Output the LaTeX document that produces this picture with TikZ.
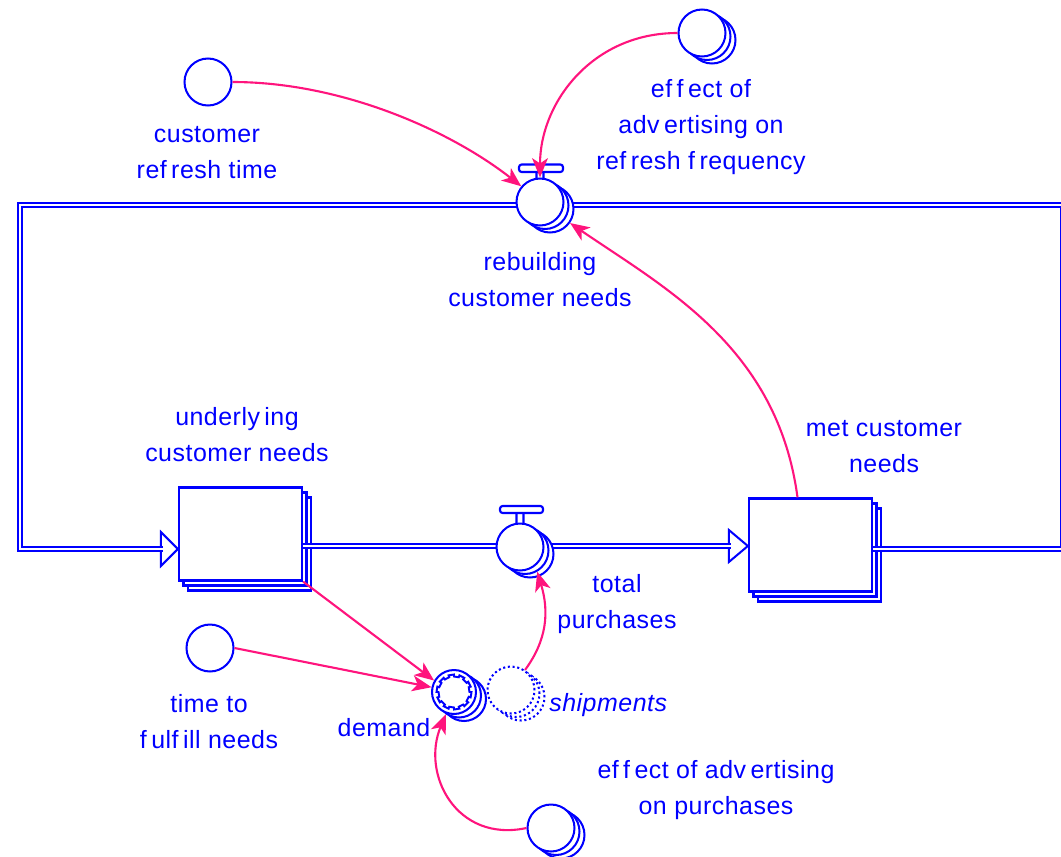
\documentclass[tikz,border=0pt]{standalone}
\usepackage{fontspec}
\setmainfont[LetterSpace=2]{Liberation Sans}
\usetikzlibrary{calc,arrows.meta}
\definecolor{vblue}{RGB}{0,0,255}
\definecolor{vpink}{RGB}{255,20,125}
% small gap that the sketch font leaves after f, v and y
\newcommand\fgap{\kern2.5pt}
% auxiliary / rate circle with two offset copies behind it
\newcommand\auxstack[3][auxc]{%
  \node[#1] (#2-b) at ($(#3)+(10,7)$) {};
  \node[#1] (#2-a) at ($(#3)+(5,3.5)$) {};
  \node[#1] (#2) at (#3) {};}
% level box with two offset copies behind it
\newcommand\stockstack[2]{%
  \node[stockbox] (#1-b) at ($(#2)+(9,10)$) {};
  \node[stockbox] (#1-a) at ($(#2)+(4.5,5)$) {};
  \node[stockbox] (#1) at (#2) {};}
\tikzset{
  auxc/.style={circle, draw=vblue, fill=white, line width=1.15pt,
    minimum size=0.94cm, inner sep=0pt},
  dmc/.style={auxc, minimum size=0.88cm},
  ghost/.style={auxc, dash pattern=on 1.2pt off 1.5pt},
  stockbox/.style={rectangle, draw=vblue, fill=white, line width=1.3pt,
    minimum width=2.46cm, minimum height=1.86cm, inner sep=0pt},
  pipe/.style={draw=vblue, line width=1.15pt, double=white,
    double distance=1.3pt, line join=miter},
  pipehead/.style={draw=vblue, fill=white, line width=1.15pt, line join=miter},
  valvebar/.style={draw=vblue, fill=white, line width=1.2pt, rounded corners=1.5pt},
  gear/.style={draw=vblue, line width=1.1pt, line join=miter},
  link/.style={draw=vpink, line width=1.2pt,
    -{Stealth[length=11pt,width=9pt,inset=3pt]}},
  lbl/.style={text=vblue, font=\fontsize{14.2}{20.5}\selectfont, align=center,
    anchor=north, inner sep=0pt, execute at begin node=\strut}
}
\begin{document}
\begin{tikzpicture}[x=0.02cm, y=-0.02cm]
\useasboundingbox (0,0) rectangle (1061,856);
\clip (0,0) rectangle (1061,856);

% levels
\stockstack{ucn}{240.5,534}
\stockstack{mcn}{810.5,545}

% flow heads
\draw[pipehead] (ucn.west |- 0,549) -- ++(-17,-17) -- ++(0,34) -- cycle;
\draw[pipehead] (mcn.west |- 0,546) -- ++(-19,-16) -- ++(0,32) -- cycle;

% pipes
\draw[pipe] (mcn.east |- 0,549) -- (1063,549) -- (1063,205) -- (20,205)
  -- (20,549) -- (163,549);
\draw[pipe] (ucn.east |- 0,546) -- (731,546);

% valve handles
\draw[valvebar] (536.5,170) rectangle (543.5,181);
\draw[valvebar] (519,164.5) rectangle (563,172);
\draw[valvebar] (516.5,511) rectangle (523.5,526);
\draw[valvebar] (500,506) rectangle (543,513);

% rates
\auxstack{rb}{540,202}
\auxstack{tp}{520,547}

% auxiliaries
\node[auxc] (crt) at (208,82) {};
\node[auxc] (tf) at (210,648) {};
\auxstack{ear}{702,33}
\auxstack{ep}{551,828}
\auxstack[ghost]{sp}{511,690}
\auxstack[dmc]{dm}{454,692}
\draw[gear] ($(dm.center)+(0:17.5)$)
  \foreach \a in {0,36,...,324} {
    -- ($(dm.center)+(\a+18:17.5)$) -- ($(dm.center)+(\a+18:15.5)$)
    -- ($(dm.center)+(\a+36:15.5)$) -- ($(dm.center)+(\a+36:17.5)$) } -- cycle;

% labels
\node[lbl] (l-crt) at (207,126) {customer\\ref\fgap resh time};
\node[lbl] (l-ear) at (701,79) {ef\fgap f\fgap ect of\\adv\fgap ertising on\\ref\fgap resh f\fgap requency};
\node[lbl] (l-rb) at (540,252) {rebuilding\\customer needs};
\node[lbl] (l-ucn) at (237,407) {underly\fgap ing\\customer needs};
\node[lbl] (l-mcn) at (884,420) {met customer\\needs};
\node[lbl] (l-tp) at (617,574) {total\\purchases};
\node[lbl] (l-tf) at (209,694) {time to\\f\fgap ulf\fgap ill needs};
\node[lbl] (l-dm) at (384,711) {demand};
\node[lbl, anchor=north west] (l-sp) at (549,686) {\itshape shipments};
\node[lbl] (l-ep) at (716,760) {ef\fgap f\fgap ect of adv\fgap ertising\\on purchases};

% links
\draw[link] (crt.east) .. controls +(110,0) and +(-70,-55) .. (rb.140);
\draw[link] (ear.west) .. controls +(-85,0) and +(0,-75) .. (rb.north);
\draw[link] ($(mcn.north)+(-13,0)$) .. controls +(-20,-150) and +(95,65) .. (rb-b.-35);
\draw[link] (ucn.south east) -- (dm.150);
\draw[link] (tf.east) -- (dm.168);
\draw[link] (ep.west) .. controls +(-70,15) and +(-25,60) .. (dm-a.-125);
\draw[link] (sp.55) .. controls +(22,-30) and +(12,40) .. (tp-a.-60);
\end{tikzpicture}
\end{document}
